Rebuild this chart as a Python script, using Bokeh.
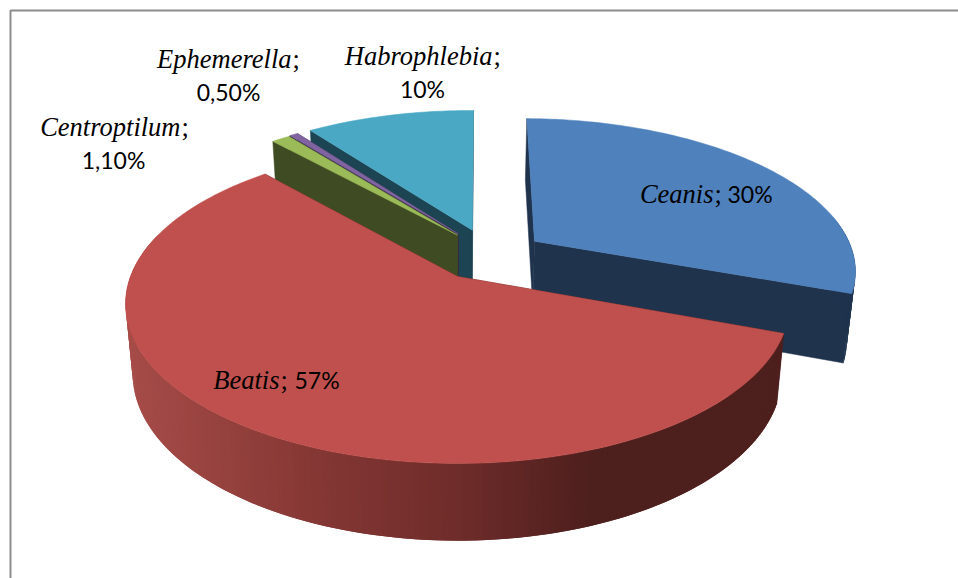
from math import sin, cos, radians
from bokeh.plotting import figure
from bokeh.embed import file_html
from bokeh.resources import INLINE
from bokeh.core.properties import value

names = ["Ceanis", "Beatis", "Centroptilum", "Ephemerella", "Habrophlebia"]
shares = [30, 57, 1.1, 0.5, 10]
share_labels = ["30%", "57%", "1,10%", "0,50%", "10%"]
top_colors = ["#4f81bd", "#c0504d", "#9bbb59", "#8064a2", "#4aa8c4"]
wall_colors = ["#1f334d", "#4d1f1d", "#3f4c23", "#352a45", "#1d4452"]

# projection of the tilted disc to page pixels
APEX = (457, 276)
A_TOP, B_TOP, K = 327, 154.8, 0.172
A_BOT, B_BOT, DROP = 320, 162, 68.5
OFFSETS = [(0.245, -0.237), (0, 0), (0.0, -0.28), (0.003, -0.288), (0.048, -0.315)]
ROTATION = 0.7


def top_pt(X, Y):
    s = 1 / (1 - K * Y)
    return APEX[0] + A_TOP * X * s, APEX[1] + B_TOP * Y * s


def bot_pt(X, Y):
    s = 1 / (1 - K * Y)
    return APEX[0] + A_BOT * X * s, APEX[1] + DROP + B_BOT * Y * s


def disc(deg, off):
    r = radians(deg)
    return sin(r) + off[0], -cos(r) + off[1]


p = figure(width=958, height=578, x_range=(0, 958), y_range=(578, 0),
           output_backend="svg", toolbar_location=None, min_border=0,
           outline_line_color=None, background_fill_color="white")
p.axis.visible = False
p.grid.visible = False

p.line([10, 10, 958], [578, 10, 10], line_color="#8c8c8c", line_width=2)


def rim_color(x):
    stops = [(125, (166, 76, 72)), (300, (135, 56, 53)), (454, (110, 44, 42)), (590, (77, 31, 29)), (958, (77, 31, 29))]
    for (x0, c0), (x1, c1) in zip(stops, stops[1:]):
        if x <= x1:
            t = max(0, (x - x0) / (x1 - x0))
            return "#%02x%02x%02x" % tuple(round(a + (b - a) * t) for a, b in zip(c0, c1))
    return "#4d1f1d"


total = sum(shares)
starts, a0 = [], ROTATION
for v in shares:
    starts.append((a0, a0 + v / total * 360))
    a0 += v / total * 360

for i in [4, 3, 2, 0, 1]:
    a, b = starts[i]
    off = OFFSETS[i]
    n = max(4, int(b - a))
    degs = [a + (b - a) * j / n for j in range(n + 1)]
    discs = [disc(d, off) for d in degs]
    ap_t, ap_b = top_pt(*off), bot_pt(*off)
    # radial walls
    for d in (discs[0], discs[-1]):
        t, u = top_pt(*d), bot_pt(*d)
        p.patch([ap_t[0], t[0], u[0], ap_b[0]], [ap_t[1], t[1], u[1], ap_b[1]],
                fill_color=wall_colors[i], line_color=wall_colors[i], line_width=0.5)
    # outer rim: only the part turned to the viewer; each strip overlaps the next
    for j in range(n):
        if not 80 < degs[j] < 285:
            continue
        d0, d1 = discs[j], discs[min(j + 2, n)]
        t0, t1, u0, u1 = top_pt(*d0), top_pt(*d1), bot_pt(*d0), bot_pt(*d1)
        c = rim_color((t0[0] + t1[0]) / 2) if i == 1 else wall_colors[i]
        p.patch([t0[0], t1[0], u1[0], u0[0]], [t0[1], t1[1], u1[1], u0[1]],
                fill_color=c, line_color=None)
    # top face
    pts = [ap_t] + [top_pt(*d) for d in discs]
    p.patch([q[0] for q in pts], [q[1] for q in pts], fill_color=top_colors[i],
            line_color=top_colors[i], line_width=0.5)

SERIF = value("Liberation Serif")
SANS = value("Lato")
NAME_SIZE = value("26.5px")
NUM_SIZE = value("23px")


def name_text(x, y, s):
    p.text([x], [y], text=[s], text_font=SERIF, text_font_style="italic", text_font_size=NAME_SIZE,
           text_align="right", text_baseline="alphabetic", text_color="black")
    p.text([x + 1], [y], text=[";"], text_font=SERIF, text_font_size=NAME_SIZE,
           text_align="left", text_baseline="alphabetic", text_color="black")


def num_text(x, y, s, align="center"):
    p.text([x], [y], text=[s], text_font=SANS, text_font_size=NUM_SIZE,
           text_align=align, text_baseline="alphabetic", text_color="black")


name_text(713, 193, names[0])
num_text(727, 193, share_labels[0], "left")
name_text(279, 379, names[1])
num_text(294, 379, share_labels[1], "left")
name_text(180, 126, names[2])
num_text(113, 159, share_labels[2])
name_text(291, 58, names[3])
num_text(228, 91, share_labels[3])
name_text(492, 55, names[4])
num_text(422, 88, share_labels[4])

open("out.html", "w").write(file_html(p, INLINE))
